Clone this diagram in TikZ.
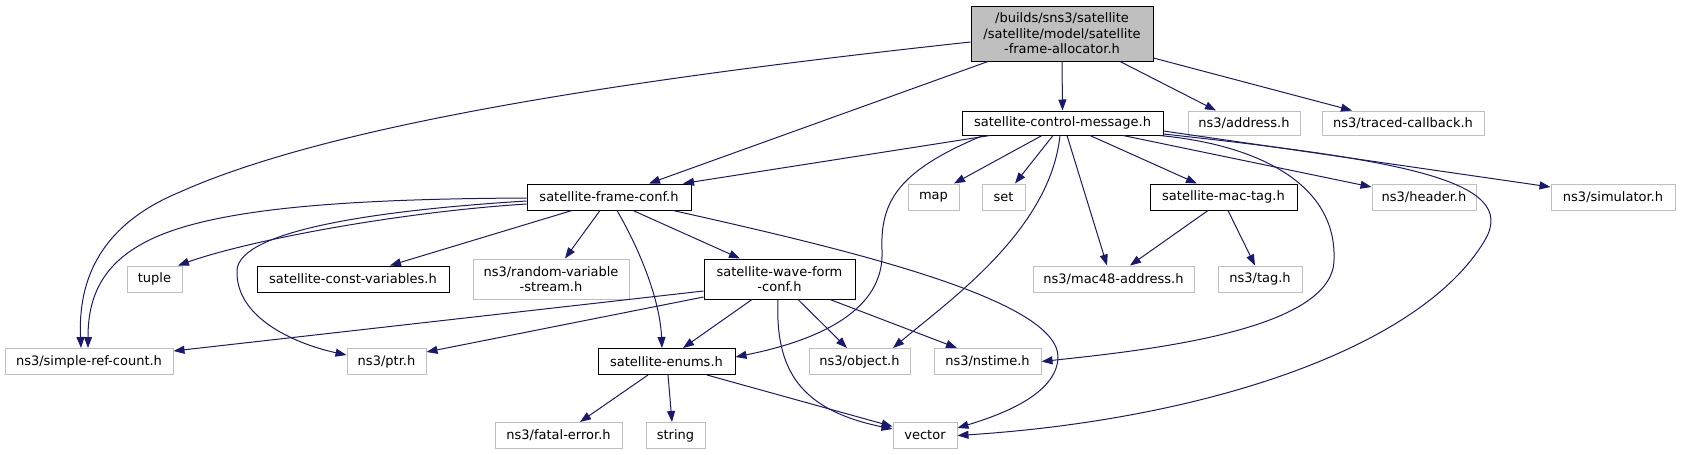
\documentclass[tikz,border=0pt]{standalone}
\usepackage{fontspec}
\setmainfont{DejaVu Sans}
\usetikzlibrary{arrows.meta}
\definecolor{edgec}{HTML}{191970}
\definecolor{greyb}{HTML}{BFBFBF}
\tikzset{
  nbox/.style={draw=black, line width=1pt, rectangle, inner sep=0pt, align=center,
    font=\fontsize{13}{15.5}\selectfont, text=black},
  gbox/.style={nbox, draw=greyb},
  mbox/.style={nbox, fill=greyb},
  e/.style={draw=edgec, line width=1pt, -{Triangle[length=11pt,width=8pt]}, fill=none},
}
\begin{document}
\begin{tikzpicture}[x=1pt,y=-1pt]
\useasboundingbox (0,0) rectangle (1681,455);
% nodes
\node[mbox, minimum width=182pt, minimum height=55pt] (M) at (1062,33.5) {/builds/sns3/satellite\\/satellite/model/satellite\\-frame-allocator.h};
\node[nbox, minimum width=201pt, minimum height=24pt] (CM) at (1062.5,123) {satellite-control-message.h};
\node[gbox, minimum width=112pt, minimum height=24pt] (AD) at (1244,123) {ns3/address.h};
\node[gbox, minimum width=162pt, minimum height=24pt] (TC) at (1403,123) {ns3/traced-callback.h};
\node[nbox, minimum width=164pt, minimum height=26pt] (FC) at (609,197) {satellite-frame-conf.h};
\node[gbox, minimum width=51pt, minimum height=26pt] (MAP) at (933.5,197) {map};
\node[gbox, minimum width=43pt, minimum height=26pt] (SET) at (1003.5,197) {set};
\node[nbox, minimum width=147pt, minimum height=26pt] (MT) at (1223.5,197) {satellite-mac-tag.h};
\node[gbox, minimum width=104pt, minimum height=26pt] (HD) at (1424,197) {ns3/header.h};
\node[gbox, minimum width=124pt, minimum height=26pt] (SIM) at (1613,197) {ns3/simulator.h};
\node[gbox, minimum width=55pt, minimum height=26pt] (TUP) at (154.5,279) {tuple};
\node[nbox, minimum width=192pt, minimum height=26pt] (CV) at (353,279) {satellite-const-variables.h};
\node[gbox, minimum width=156pt, minimum height=40pt] (RV) at (551,279) {ns3/random-variable\\-stream.h};
\node[nbox, minimum width=151pt, minimum height=40pt] (WF) at (779.5,279) {satellite-wave-form\\-conf.h};
\node[gbox, minimum width=161pt, minimum height=26pt] (M48) at (1113.5,279) {ns3/mac48-address.h};
\node[gbox, minimum width=84pt, minimum height=26pt] (TAG) at (1260,279) {ns3/tag.h};
\node[gbox, minimum width=168pt, minimum height=26pt] (SRC) at (89,361.5) {ns3/simple-ref-count.h};
\node[gbox, minimum width=79pt, minimum height=26pt] (PTR) at (386.5,361.5) {ns3/ptr.h};
\node[nbox, minimum width=137pt, minimum height=26pt] (EN) at (666.5,361.5) {satellite-enums.h};
\node[gbox, minimum width=101pt, minimum height=26pt] (OBJ) at (859.5,361.5) {ns3/object.h};
\node[gbox, minimum width=107pt, minimum height=26pt] (NST) at (987.5,361.5) {ns3/nstime.h};
\node[gbox, minimum width=127pt, minimum height=26pt] (FE) at (558.5,435.5) {ns3/fatal-error.h};
\node[gbox, minimum width=59pt, minimum height=26pt] (STR) at (675.5,435.5) {string};
\node[gbox, minimum width=64pt, minimum height=26pt] (VEC) at (925,435.5) {vector};
% edges from main
\draw[e] (M.south) -- (CM.north);
\draw[e] ([xshift=58pt]M.south) -- ([xshift=-28pt]AD.north);
\draw[e] ([yshift=-24.5pt]M.east) -- ([xshift=-51pt]TC.north);
\draw[e] ([xshift=-74pt]M.south) -- ([xshift=40pt]FC.north);
\draw[e] ([yshift=-8.5pt]M.west) .. controls (620,80) and (330,125) .. (180,192)
  .. controls (100,225) and (78,280) .. ([xshift=-8pt]SRC.north);
% edges from control message
\draw[e] ([xshift=-72.5pt]CM.south) -- ([xshift=74pt]FC.north);
\draw[e] ([xshift=-20.5pt]CM.south) -- ([xshift=20.5pt]MAP.north);
\draw[e] ([xshift=-9.5pt]CM.south) -- ([xshift=11.5pt]SET.north);
\draw[e] ([xshift=-79.5pt]CM.south) .. controls (900,170) and (880,200) .. (882,250)
  .. controls (885,310) and (820,340) .. ([yshift=4.5pt]EN.east);
\draw[e] ([xshift=-2.5pt]CM.south) .. controls (1050,230) and (950,300) .. ([xshift=33.5pt]OBJ.north);
\draw[e] ([xshift=4.5pt]CM.south) -- ([xshift=-6.5pt]M48.north);
\draw[e] ([xshift=27.5pt]CM.south) -- ([xshift=-26.5pt]MT.north);
\draw[e] ([xshift=60.5pt]CM.south) -- ([yshift=10pt]HD.west);
\draw[e] ([xshift=97pt]CM.south) .. controls (1260,145) and (1337,185) .. (1334,260)
  .. controls (1333,330) and (1150,350) .. (NST.east);
\draw[e] ([yshift=-8pt]CM.east) -- ([yshift=10pt]SIM.west);
\draw[e] ([yshift=-11pt]CM.east) .. controls (1400,160) and (1520,180) .. (1485,240)
  .. controls (1420,350) and (1200,420) .. (VEC.east);
% edges from frame conf
\draw[e] ([yshift=-1pt]FC.west) .. controls (330,199) and (200,210) .. (140,245)
  .. controls (100,268) and (88,300) .. ([xshift=-1pt]SRC.north);
\draw[e] ([yshift=-7pt]FC.west) .. controls (400,212) and (250,240) .. ([xshift=23.5pt]TUP.north);
\draw[e] ([yshift=-4pt]FC.west) .. controls (380,210) and (240,230) .. (237,270)
  .. controls (235,320) and (300,345) .. ([yshift=6.5pt]PTR.west);
\draw[e] ([xshift=-37pt]FC.south) -- ([xshift=37pt]CV.north);
\draw[e] ([xshift=-9pt]FC.south) -- ([xshift=14pt]RV.north);
\draw[e] ([xshift=8pt]FC.south) .. controls (640,250) and (660,300) .. ([xshift=-4.5pt]EN.north);
\draw[e] ([xshift=24pt]FC.south) -- ([xshift=-39.5pt]WF.north);
\draw[e] ([xshift=64pt]FC.south) .. controls (850,250) and (1060,300) .. (1058,358)
  .. controls (1056,395) and (1000,415) .. ([yshift=7.5pt]VEC.east);
% mac tag
\draw[e] ([xshift=-15.5pt]MT.south) -- ([xshift=16.5pt]M48.north);
\draw[e] ([xshift=4.5pt]MT.south) -- ([xshift=-5pt]TAG.north);
% wave form
\draw[e] ([yshift=-12pt]WF.west) -- ([yshift=10.5pt]SRC.east);
\draw[e] ([yshift=-18pt]WF.west) -- ([yshift=9.5pt]PTR.east);
\draw[e] ([xshift=-27.5pt]WF.south) -- ([xshift=16.5pt]EN.north);
\draw[e] ([xshift=18.5pt]WF.south) -- ([xshift=-12.5pt]OBJ.north);
\draw[e] ([xshift=50.5pt]WF.south) -- ([xshift=-30.5pt]NST.north);
\draw[e] ([xshift=-1.5pt]WF.south) .. controls (775,370) and (800,410) .. ([yshift=6.5pt]VEC.west);
% enums
\draw[e] ([xshift=-18.5pt]EN.south) -- ([xshift=21.5pt]FE.north);
\draw[e] ([xshift=1.5pt]EN.south) -- ([xshift=-3.5pt]STR.north);
\draw[e] ([xshift=40.5pt]EN.south) -- ([yshift=9pt]VEC.west);
\end{tikzpicture}
\end{document}
